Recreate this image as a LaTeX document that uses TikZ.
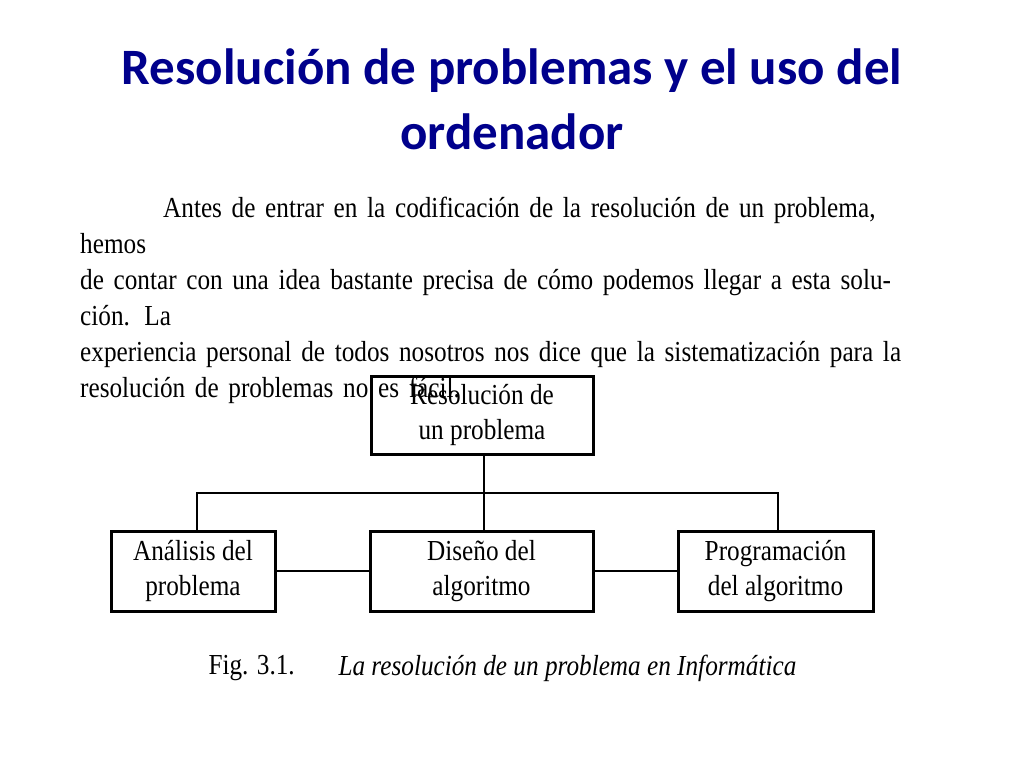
\documentclass[tikz,border=0pt]{standalone}
\usepackage{fontspec}
\setmainfont{Liberation Serif}[FakeStretch=0.87]
\newfontfamily\titlefont{Carlito}
\definecolor{titleblue}{RGB}{0,0,140}
\begin{document}
\begin{tikzpicture}[x=1pt,y=-1pt,
  box/.style={draw,line width=3pt,minimum width=#1,minimum height=80pt,align=center,inner sep=0pt,font=\fontsize{29}{35}\selectfont},
  conn/.style={line width=1.5pt}]
\useasboundingbox (0,0) rectangle (1024,768);
\node[font=\titlefont\bfseries\fontsize{51}{65}\selectfont,text=titleblue,align=center] (title) at (512,99) {Resolución de problemas y el uso del\\ordenador};
\node[anchor=north west,inner sep=0pt,text width=842pt,font=\fontsize{29}{36}\selectfont] (para) at (80,197)
{\hspace*{83pt}Antes de entrar en la codificación de la resolución de un problema, hemos\linebreak de contar con una idea bastante precisa de cómo podemos llegar a esta solución. La\linebreak experiencia personal de todos nosotros nos dice que la sistematización para la\linebreak resolución de problemas no es fácil.};
\node[box=222pt,minimum height=78pt] (root) at (482,415) {Resolución de\\un problema};
\node[box=164pt] (a) at (193,571) {Análisis del\\problema};
\node[box=223pt] (b) at (481.5,571) {Diseño del\\algoritmo};
\node[box=195pt] (c) at (775.5,571) {Programación\\del algoritmo};
\coordinate (j) at (484,493);
\draw[conn] (root.south -| j) -- (j) -- (b.north -| j);
\draw[conn] (a.north -| 197,0) |- (j) -| (c.north -| 778,0);
\draw[conn] (a) -- (b);
\draw[conn] (b) -- (c);
\node[anchor=west,font=\fontsize{29}{32}\selectfont] (fig) at (205,668) {Fig. 3.1.};
\node[anchor=west,font=\itshape\fontsize{29}{32}\selectfont] (cap) at (335,668) {La resolución de un problema en Informática};
\end{tikzpicture}
\end{document}
